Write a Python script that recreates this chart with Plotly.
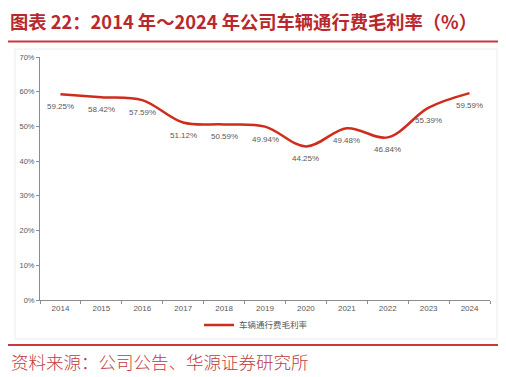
import plotly.graph_objects as go

years = ["2014", "2015", "2016", "2017", "2018", "2019", "2020", "2021", "2022", "2023", "2024"]
margin_rate = [59.25, 58.42, 57.59, 51.12, 50.59, 49.94, 44.25, 49.48, 46.84, 55.39, 59.59]
series_name = "车辆通行费毛利率"
y_ticks = [0, 10, 20, 30, 40, 50, 60, 70]
y_tick_labels = ["0%", "10%", "20%", "30%", "40%", "50%", "60%", "70%"]
title_text = "图表 22：2014 年～2024 年公司车辆通行费毛利率（%）"
source_text = "资料来源：公司公告、华源证券研究所"

# the page body adds an 8px margin, so the figure is 8px smaller
OFF = 8
W, H = 506 - OFF, 377 - OFF
ML, MR, MT, MB = 40 - OFF, 16, 57 - OFF, 77
PW, PH = W - ML - MR, H - MT - MB


def px(x):  # x in reference-page pixels -> paper coords
    return (x - OFF - ML) / PW


def py(y):  # y in reference-page pixels -> paper coords
    return (H - MB - (y - OFF)) / PH


RED = "#B8282E"
LINE_RED = "#CF2C1C"
GRAY = "#595959"

fig = go.Figure()
fig.add_trace(go.Scatter(
    x=years, y=margin_rate, mode="lines", name=series_name,
    line=dict(color=LINE_RED, width=2.5, shape="spline", smoothing=1.0),
    hoverinfo="skip",
))

annotations = []
for i, v in enumerate(margin_rate):
    annotations.append(dict(
        x=i, y=v, xref="x", yref="y", text=f"{v:.2f}%", showarrow=False,
        yshift=-12.5, font=dict(family="Liberation Sans, Arial", size=8, color=GRAY),
    ))

annotations.append(dict(
    x=px(8.5), y=py(20.5), xref="paper", yref="paper", xanchor="left", yanchor="middle",
    text=title_text, showarrow=False, borderpad=0,
    font=dict(family="Noto Sans CJK SC", size=18.3, color=RED, weight="bold"),
))
annotations.append(dict(
    x=px(8.5), y=py(361), xref="paper", yref="paper", xanchor="left", yanchor="middle",
    text=source_text, showarrow=False,
    font=dict(family="Noto Sans CJK SC", size=17.5, color="#C0393F", weight=300),
))

shapes = [
    dict(type="line", xref="paper", yref="paper", x0=px(8), x1=px(501), y0=py(41.5), y1=py(41.5),
         line=dict(color="#C8383C", width=2)),
    dict(type="line", xref="paper", yref="paper", x0=px(8), x1=px(501), y0=py(345), y1=py(345),
         line=dict(color="#C8383C", width=2)),
    dict(type="rect", xref="paper", yref="paper", x0=px(15), x1=px(497), y0=py(339), y1=py(49),
         line=dict(color="#ECECEC", width=1), layer="below"),
]

fig.update_layout(
    width=W, height=H,
    margin=dict(l=ML, r=MR, t=MT, b=MB),
    paper_bgcolor="white", plot_bgcolor="white",
    showlegend=True,
    legend=dict(
        orientation="h", x=px(256), xanchor="center", y=py(325), yanchor="middle",
        font=dict(family="Noto Sans CJK SC", size=8.5, color=GRAY),
        bgcolor="rgba(0,0,0,0)", itemwidth=30,
    ),
    annotations=annotations,
    shapes=shapes,
    xaxis=dict(
        type="category", range=[-0.5, len(years) - 0.5], tickson="boundaries",
        showline=True, linecolor="#8C8C8C", linewidth=1,
        ticks="outside", ticklen=3, tickcolor="#8C8C8C",
        showgrid=False, zeroline=False,
        tickfont=dict(family="Liberation Sans, Arial", size=8, color=GRAY),
    ),
    yaxis=dict(
        range=[0, 70], tickvals=y_ticks, ticktext=y_tick_labels,
        showline=True, linecolor="#8C8C8C", linewidth=1,
        ticks="outside", ticklen=3, tickcolor="#8C8C8C",
        showgrid=False, zeroline=False,
        tickfont=dict(family="Liberation Sans, Arial", size=7.5, color=GRAY),
    ),
)

fig.write_html("out.html")
